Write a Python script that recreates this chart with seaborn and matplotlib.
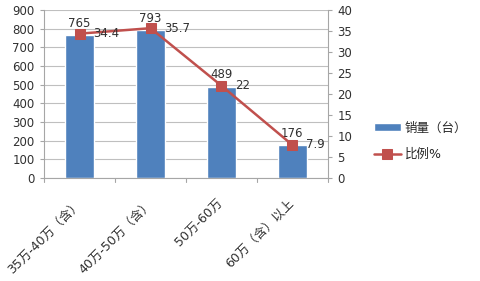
import matplotlib
matplotlib.use("Agg")
import matplotlib.pyplot as plt
import seaborn as sns
import pandas as pd
import numpy as np

categories = ["35万-40万（含）", "40万-50万（含）", "50万-60万", "60万（含）以上"]
sales = [765, 793, 489, 176]
ratio = [34.4, 35.7, 22, 7.9]

sns.set_theme(style="white")
plt.rcParams['font.family'] = ['DejaVu Sans', 'Noto Sans CJK SC']

df = pd.DataFrame({"cat": categories, "sales": sales, "ratio": ratio})

fig = plt.figure(figsize=(4.8, 2.81), dpi=100)
ax = fig.add_axes([0.092, 0.366, 0.591, 0.598])
bar_color = "#4F81BD"
line_color = "#C0504D"
txt = "#303030"
axis_c = "#A6A6A6"

sns.barplot(data=df, x="cat", y="sales", color=bar_color, width=0.4, ax=ax,
            saturation=1, label="销量（台）", zorder=2)
ax.set_ylim(0, 900)
ax.set_yticks(range(0, 901, 100))
ax.set_xlim(-0.5, 3.5)
ax.yaxis.grid(True, color="#BFBFBF", linewidth=0.8, zorder=0)
ax.set_axisbelow(True)
ax.set_xlabel("")
ax.set_ylabel("")
for s in ["top", "right"]:
    ax.spines[s].set_visible(False)
for s in ["left", "bottom"]:
    ax.spines[s].set_color(axis_c)
    ax.spines[s].set_linewidth(0.8)
ax.tick_params(axis="y", labelsize=8.5, color=axis_c, labelcolor=txt,
               length=3, width=0.8, direction="out", left=True, pad=4)
ax.set_xticks(range(4))
ax.set_xticklabels(categories, rotation=45, ha="right", va="center",
                   rotation_mode="anchor", fontsize=9, color=txt)
ax.tick_params(axis="x", length=0, pad=17)
# category boundary ticks at bottom
for xb in [-0.5, 0.5, 1.5, 2.5, 3.5]:
    ax.plot([xb, xb], [0, -20], color=axis_c, linewidth=0.8, clip_on=False)
for i, v in enumerate(sales):
    ax.annotate(str(v), (i, v), xytext=(0, 4), textcoords="offset points",
                ha="center", va="bottom", fontsize=8.5, color=txt)
h1, l1 = ax.get_legend_handles_labels()
if ax.get_legend() is not None:
    ax.get_legend().remove()

ax2 = ax.twinx()
sns.lineplot(x=list(range(4)), y=ratio, ax=ax2, color=line_color, marker="s",
             markersize=7, markeredgecolor=line_color, linewidth=1.8, label="比例%",
             legend=False)
ax2.set_ylim(0, 40)
ax2.set_yticks(range(0, 41, 5))
ax2.set_xlim(-0.5, 3.5)
for s in ["top", "left", "bottom"]:
    ax2.spines[s].set_visible(False)
ax2.spines["right"].set_color(axis_c)
ax2.spines["right"].set_linewidth(0.8)
ax2.tick_params(axis="y", labelsize=8.5, color=axis_c, labelcolor=txt,
                length=3, width=0.8, direction="out", pad=4)
ax2.grid(False)
for i, v in enumerate(ratio):
    ax2.annotate(f"{v:g}", (i, v), xytext=(10, 0), textcoords="offset points",
                 ha="left", va="center", fontsize=8.5, color=txt)

h2, l2 = ax2.get_legend_handles_labels()
fig.legend(h1 + h2, l1 + l2, loc="center left", bbox_to_anchor=(0.755, 0.497),
           frameon=False, fontsize=9, handlelength=2.2, handleheight=0.5,
           labelspacing=1.1, handletextpad=0.3)

fig.savefig("out.png", dpi=100)
